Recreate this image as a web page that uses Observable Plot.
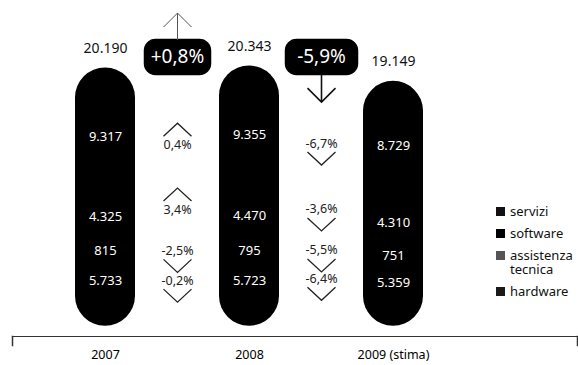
<!DOCTYPE html>
<html><head><meta charset="utf-8">
<script src="https://cdn.jsdelivr.net/npm/d3@7"></script>
<script src="https://cdn.jsdelivr.net/npm/@observablehq/plot@0.6"></script>
<style>
body{margin:0;background:#fff;}
#wrap{position:relative;width:578px;height:365px;font-family:"Noto Sans",sans-serif;overflow:hidden;}
#legend{position:absolute;left:496px;top:204px;font-size:13px;color:#111;line-height:14px;}
#legend .it{display:flex;align-items:flex-start;margin-bottom:8px;}
#legend .sw{width:9px;height:9px;margin-top:3px;margin-right:5px;flex:none;}
#legend .tx{display:block;width:70px;}
</style></head><body><div id="wrap"></div>
<script>
// ---- data ----
const years = ["2007", "2008", "2009 (stima)"];
const spans = ["2007–2008", "2008–2009"];
const seriesNames = ["servizi", "software", "assistenza tecnica", "hardware"];
const servizi = [9317, 9355, 8729];
const software = [4325, 4470, 4310];
const assistenza = [815, 795, 751];
const hardware = [5733, 5723, 5359];
const totals = [20190, 20343, 19149];
const totalChange = [0.8, -5.9];
const chgServizi = [0.4, -6.7];
const chgSoftware = [3.4, -3.6];
const chgAssistenza = [-2.5, -5.5];
const chgHardware = [-0.2, -6.4];
const legendColors = ["#111", "#000", "#555", "#1a1a1a"];

// ---- derived ----
const segs = {"servizi": servizi, "software": software, "assistenza tecnica": assistenza, "hardware": hardware};
const chg = {"servizi": chgServizi, "software": chgSoftware, "assistenza tecnica": chgAssistenza, "hardware": chgHardware};
const stackOrder = ["hardware", "assistenza tecnica", "software", "servizi"];
const slots = [years[0], spans[0], years[1], spans[1], years[2]];
function center(s, i) {
  let base = 0;
  for (const t of stackOrder) { if (t === s) return base + segs[t][i] / 2; base += segs[t][i]; }
}
const itLocale = d3.formatLocale({decimal: ",", thousands: ".", grouping: [3], currency: ["€", ""]});
const fmtN = itLocale.format(",d");
const fmtP = v => (v < 0 ? "-" : "") + Math.abs(v).toFixed(1).replace(".", ",") + "%";
const fmtPS = v => (v < 0 ? "-" : "+") + Math.abs(v).toFixed(1).replace(".", ",") + "%";

const barRows = years.map((y, i) => ({x: y, total: d3.sum(stackOrder, s => segs[s][i]), label: totals[i]}));
const innerRows = years.flatMap((y, i) => seriesNames.map(s => ({x: y, series: s, y: center(s, i), text: fmtN(segs[s][i])})));
const chgRows = spans.flatMap((sp, j) => seriesNames.map(s => ({x: sp, series: s, j, y: (center(s, j) + center(s, j + 1)) / 2, v: chg[s][j]})));
const boxRows = spans.map((sp, j) => ({x: sp, y: Math.max(totals[j], totals[j + 1]), v: totalChange[j]}));

// ---- styles (offsets in px) ----
const labelDy = {"servizi": 9, "software": 2, "assistenza tecnica": 3, "hardware": -9};
const chgDy = {"servizi": [18, 12], "software": [-5, -8], "assistenza tecnica": [3, 0], "hardware": [-9, -12]};
const boxW = [66, 72];

const chevUp = {draw(c) { c.moveTo(-14, 6.5); c.lineTo(0, -6.5); c.lineTo(14, 6.5); }};
const chevDown = {draw(c) { c.moveTo(-14, -6.5); c.lineTo(0, 6.5); c.lineTo(14, -6.5); }};
const arrowUp = {draw(c) { c.moveTo(0, -17); c.lineTo(0, -44); c.moveTo(-14, -30); c.lineTo(0, -44); c.lineTo(14, -30); }};
const arrowDown = {draw(c) { c.moveTo(0, 18); c.lineTo(0, 45); c.moveTo(-14, 31); c.lineTo(0, 45); c.lineTo(14, 31); }};
function roundRect(w, h, r) {
  return {draw(c) {
    const x0 = -w / 2, y0 = -h / 2, x1 = w / 2, y1 = h / 2;
    c.moveTo(x0 + r, y0); c.lineTo(x1 - r, y0); c.arcTo(x1, y0, x1, y0 + r, r);
    c.lineTo(x1, y1 - r); c.arcTo(x1, y1, x1 - r, y1, r);
    c.lineTo(x0 + r, y1); c.arcTo(x0, y1, x0, y1 - r, r);
    c.lineTo(x0, y0 + r); c.arcTo(x0, y0, x0 + r, y0, r); c.closePath();
  }};
}

const marks = [
  Plot.barY(barRows, {x: "x", y: "total", fill: "#000", rx: 30}),
  Plot.text(barRows, {x: "x", y: "total", text: d => fmtN(d.label), dy: -20, fontSize: 14, fill: "#111"}),
  ...seriesNames.map(s => Plot.text(innerRows.filter(d => d.series === s), {x: "x", y: "y", text: "text", fill: "#fff", fontSize: 13, letterSpacing: 0.6, dy: labelDy[s]})),
  ...chgRows.map(d => Plot.text([d], {x: "x", y: "y", text: r => fmtP(r.v), fontSize: 12.5, fill: "#222", dy: chgDy[d.series][d.j]})),
  ...chgRows.map(d => Plot.dot([d], {x: "x", y: "y", symbol: d.v > 0 ? chevUp : chevDown, fill: "none", stroke: "#222", strokeWidth: 1.3, dy: chgDy[d.series][d.j] + (d.v > 0 ? -15 : 15)})),
  ...boxRows.map((d, j) => Plot.dot([d], {x: "x", y: "y", symbol: roundRect(boxW[j], 35, 11), fill: "#000", stroke: "#000", dy: -9})),
  ...boxRows.map(d => Plot.dot([d], {x: "x", y: "y", symbol: d.v > 0 ? arrowUp : arrowDown, fill: "none", stroke: d.v > 0 ? "#555" : "#111", strokeWidth: d.v > 0 ? 1 : 1.6, dy: -9})),
  Plot.text(boxRows, {x: "x", y: "y", text: d => fmtPS(d.v), fill: "#fff", fontSize: 19, dy: -9}),
  Plot.frame({anchor: "bottom", stroke: "#333", strokeWidth: 1.2}),
  Plot.frame({anchor: "left", insetTop: 330, insetBottom: -9, stroke: "#333", strokeWidth: 1.5}),
  Plot.frame({anchor: "right", insetTop: 330, insetBottom: -9, stroke: "#333", strokeWidth: 1.5}),
  Plot.axisX({ticks: years, tickSize: 0, tickPadding: 14, fontSize: 12.5, fill: "#000", label: null})
];

const chart = Plot.plot({
  width: 578, height: 365,
  marginTop: 6, marginBottom: 29, marginLeft: 12, marginRight: 1,
  style: {fontFamily: "'Noto Sans', sans-serif", background: "#fff", overflow: "visible"},
  x: {type: "band", domain: slots, range: [75, 423], paddingInner: 1/6, paddingOuter: 0, label: null},
  y: {domain: [-800, 25000], axis: null},
  marks
});
const wrap = document.getElementById("wrap");
wrap.appendChild(chart);

const legendLabels = ["servizi", "software", "assistenza tecnica", "hardware"];
const lg = document.createElement("div");
lg.id = "legend";
lg.innerHTML = legendLabels.map((l, i) => `<div class="it"><span class="sw" style="background:${legendColors[i]}"></span><span class="tx">${l}</span></div>`).join("");
wrap.appendChild(lg);
</script>
</body></html>
